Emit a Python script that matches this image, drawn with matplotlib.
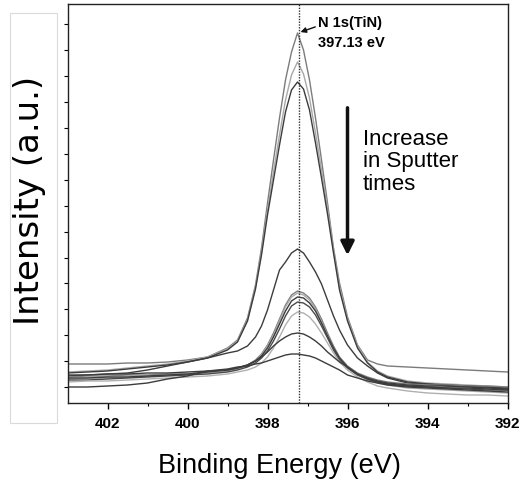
import matplotlib
matplotlib.use("Agg")
import matplotlib.pyplot as plt
from matplotlib.patches import Rectangle
import numpy as np

# Binding energy grid (eV) shared by all spectra
energy = [403.0, 402.5, 402.0, 401.5, 401.0, 400.5, 400.0, 399.5, 399.0, 398.75,
          398.5, 398.3, 398.15, 398.0, 397.85, 397.7, 397.55, 397.4, 397.25, 397.1,
          396.95, 396.8, 396.65, 396.5, 396.35, 396.2, 396.0, 395.75, 395.5, 395.25,
          395.0, 394.5, 394.0, 393.5, 393.0, 392.5, 392.0]

# Intensities (a.u.), ordered from shortest to longest sputter time
s01 = [39, 39, 39, 40, 40, 41, 43, 46, 55, 63, 85, 118, 155, 200, 243, 285, 323, 351, 370,
       353, 323, 285, 243, 200, 155, 120, 86, 58, 43, 39, 37, 36, 35, 34, 33, 32, 31]
s02 = [31, 32, 33, 35, 37, 39, 42, 46, 54, 62, 83, 116, 151, 193, 231, 268, 303, 328, 341,
       329, 305, 270, 233, 195, 153, 116, 84, 57, 41, 32, 27, 22, 20, 19, 18, 17, 16]
s03 = [30, 31, 32, 34, 36, 38, 41, 45, 53, 61, 82, 114, 148, 188, 223, 258, 291, 313, 321,
       314, 293, 260, 225, 189, 150, 113, 82, 55, 40, 31, 26, 21, 19, 18, 17, 16, 15]
s04 = [27, 28, 29, 30, 33, 37, 41, 45, 50, 52, 57, 66, 77, 93, 113, 133, 141, 150, 154,
       150, 141, 131, 119, 103, 87, 73, 58, 45, 37, 30, 25, 20, 19, 17, 17, 16, 15]
s05 = [26, 27, 27, 28, 28, 29, 29, 31, 33, 35, 38, 43, 49, 58, 70, 84, 98, 108, 112,
       110, 105, 96, 84, 70, 57, 46, 37, 30, 26, 23, 21, 19, 18, 18, 17, 17, 16]
s06 = [24, 25, 25, 26, 27, 28, 29, 30, 32, 34, 37, 42, 48, 57, 68, 82, 96, 106, 110,
       108, 103, 94, 81, 67, 54, 44, 35, 28, 23, 20, 18, 15, 14, 13, 12, 11, 10]
s07 = [28, 28, 29, 29, 30, 30, 31, 32, 33, 35, 38, 42, 47, 55, 66, 79, 92, 102, 106,
       105, 100, 92, 80, 67, 55, 45, 36, 29, 25, 22, 20, 18, 17, 17, 16, 15, 14]
s08 = [23, 23, 24, 25, 26, 27, 28, 29, 31, 33, 36, 40, 45, 52, 62, 74, 87, 97, 101,
       100, 96, 88, 77, 65, 53, 43, 35, 28, 24, 21, 19, 17, 16, 15, 14, 13, 13]
s09 = [21, 22, 22, 23, 24, 25, 26, 27, 29, 31, 33, 36, 40, 46, 55, 66, 78, 87, 91,
       90, 86, 79, 70, 60, 50, 41, 33, 26, 21, 17, 15, 12, 10, 9, 8, 8, 7]
s10 = [25, 25, 26, 26, 27, 28, 29, 31, 33, 35, 38, 42, 46, 51, 57, 62, 66, 69, 70,
       69, 66, 62, 57, 51, 46, 41, 36, 29, 24, 21, 19, 17, 16, 15, 15, 14, 13]
s11 = [16, 16, 17, 18, 20, 24, 27, 32, 34, 36, 37, 39, 40, 42, 44, 46, 48, 49, 49,
       48, 47, 45, 42, 39, 36, 33, 28, 25, 22, 20, 18, 16, 15, 14, 13, 12, 11]

series = [s01, s02, s03, s04, s05, s06, s07, s08, s09, s10, s11]
colors = ['#7c7c7c', '#a8a8a8', '#3c3c3c', '#3c3c3c', '#808080', '#aaaaaa',
          '#3c3c3c', '#4a4a4a', '#b0b0b0', '#3c3c3c', '#3c3c3c']

peak_be = 397.22
xticks = [402, 400, 398, 396, 394, 392]
xtick_labels = ['402', '400', '398', '396', '394', '392']

fig = plt.figure(figsize=(5.2, 4.88), dpi=100)
ax = fig.add_axes([67.5 / 520, 85 / 488, 440 / 520, 399 / 488])

for s, c in zip(series, colors):
    ax.plot(energy, s, color=c, lw=1.0)

ax.axvline(peak_be, color='#333333', lw=1.0, ls=(0, (1, 1)))

ax.set_xlim(403, 392)
ax.set_ylim(0, 399)
ax.set_xticks(xticks)
ax.set_xticks([401, 399, 397, 395, 393], minor=True)
ax.set_xticklabels(xtick_labels, fontfamily='Liberation Sans',
                   fontweight='bold', fontsize=11)
ax.set_yticks(np.arange(16, 390, 25.9))
ax.set_yticklabels([])
ax.tick_params(axis='x', which='major', direction='out', length=4, width=1, pad=6)
ax.tick_params(axis='x', which='minor', direction='out', length=2.5, width=0.8)
ax.tick_params(axis='y', direction='out', length=3, width=0.8)
for sp in ax.spines.values():
    sp.set_color('#222222')
    sp.set_linewidth(1.0)
ax.spines['top'].set_linestyle((0, (1, 1)))

ax.set_xlabel('Binding Energy (eV)', fontfamily='Liberation Sans', fontsize=19.5)
ax.xaxis.set_label_coords(0.481, -0.125)
fig.text(30 / 520, 1 - 200 / 488, 'Intensity (a.u.)', rotation=90, ha='center', va='center',
         fontfamily='DejaVu Sans', fontsize=24.5)

# faint pasted box around y label
fig.patches.append(Rectangle((10 / 520, 1 - 423 / 488), 47 / 520, 410 / 488,
                             transform=fig.transFigure, fill=False, ec='#dadada', lw=0.8))

# peak annotation
ax.annotate('', xy=(397.24, 370), xytext=(396.74, 377),
            arrowprops=dict(arrowstyle='-|>', color='#111111', lw=1.0, mutation_scale=8))
ax.text(396.74, 380, 'N 1s(TiN)', fontfamily='Liberation Sans', fontweight='bold',
        fontsize=10.5, ha='left', va='center')
ax.text(396.74, 360, '397.13 eV', fontfamily='Liberation Sans', fontweight='bold',
        fontsize=10.5, ha='left', va='center')

# sputter-time arrow and text
ax.annotate('', xy=(396.0, 145), xytext=(396.0, 298),
            arrowprops=dict(arrowstyle='-|>', color='#111111', lw=2.5, mutation_scale=20))
ax.text(395.62, 241, 'Increase\nin Sputter\ntimes', fontfamily='Liberation Sans',
        fontsize=16, ha='left', va='center', linespacing=1.1)

fig.savefig('out.png', dpi=100)
